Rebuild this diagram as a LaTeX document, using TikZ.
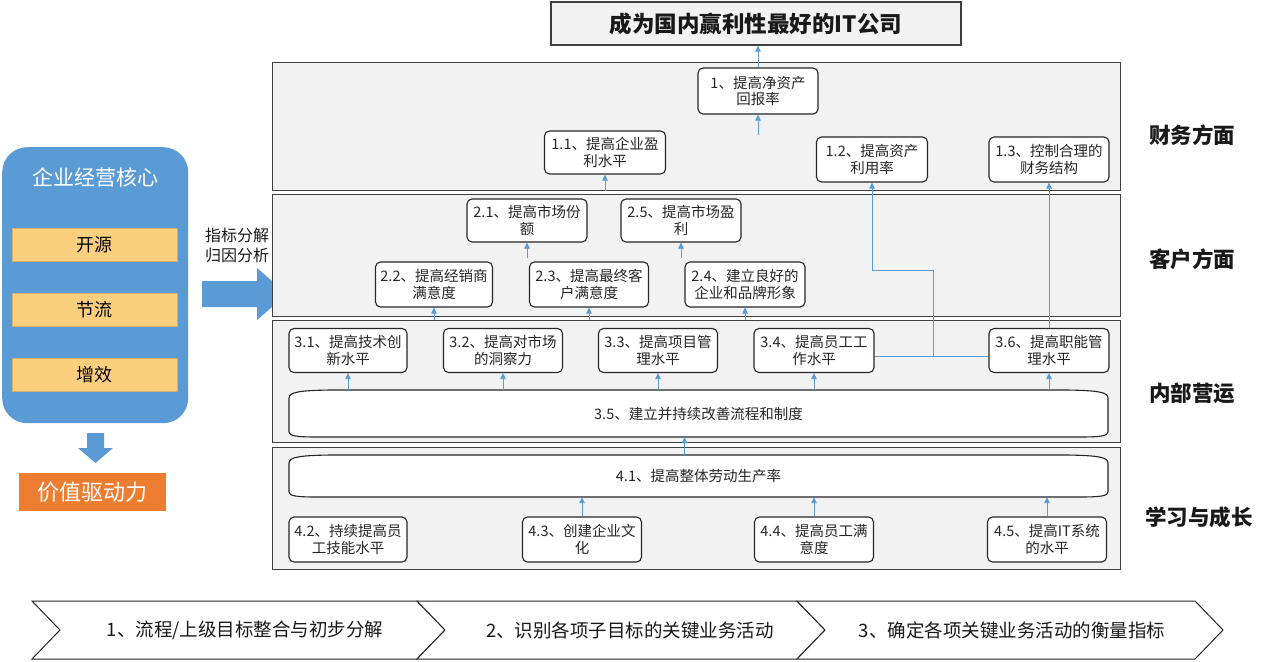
\documentclass[tikz,border=0pt]{standalone}
\usepackage{fontspec}
\setmainfont{Noto Sans CJK SC}
\usetikzlibrary{arrows.meta}
\definecolor{panelfill}{HTML}{F2F2F2}
\definecolor{panelline}{HTML}{404040}
\definecolor{boxline}{HTML}{262626}
\definecolor{arrc}{HTML}{5B9BD5}
\definecolor{coreblue}{HTML}{5B9BD5}
\definecolor{obox}{HTML}{FCCF7E}
\definecolor{vorange}{HTML}{ED7D31}
\newcommand\fs[2]{\fontsize{#1}{#2}\selectfont}
\begin{document}
\begin{tikzpicture}[x=1pt,y=-1pt,
  panel/.style={draw=panelline, fill=panelfill, line width=1.3pt, anchor=north west, inner sep=0pt},
  goal/.style={draw=boxline, fill=white, rounded corners=5pt, line width=1.1pt, align=center,
    font=\fs{14.5}{16.5}, minimum height=44pt, minimum width=119pt, inner sep=1pt, text=black!85},
  bartext/.style={font=\fs{14.5}{16.5}, text=black!85, inner sep=0pt},
  conn/.style={draw=arrc, line width=0.8pt, -{Triangle[length=6pt,width=5.5pt]}},
  plainline/.style={draw=arrc, line width=0.8pt},
  side/.style={font=\bfseries\fs{21.5}{24}, text=black!90},
  oboxs/.style={fill=obox, draw=obox!85!black, line width=0.4pt, minimum width=165pt, minimum height=33pt, font=\fs{18}{20}},
  chev/.style={draw=boxline, fill=white, line width=1pt},
  chevtext/.style={font=\fs{18.5}{20}, text=black!90},
  barline/.style={draw=boxline, fill=white, line width=1.1pt}
]
\useasboundingbox (0,0) rectangle (1268,661);

% ---------- left part ----------
\node[fill=coreblue, rounded corners=25pt, minimum width=186pt, minimum height=276pt, anchor=north west, inner sep=0pt] (core) at (2,147) {};
\node[text=white, font=\fs{21}{24}] (coret) at (95,177) {企业经营核心};
\node[oboxs] (ky) at (94.5,244.5) {开源};
\node[oboxs] (jl) at (94.5,310) {节流};
\node[oboxs] (zx) at (94.5,375) {增效};
\fill[coreblue] (87,433) -- (104,433) -- (104,448) -- (113,448) -- (95.5,463) -- (78,448) -- (87,448) -- cycle;
\node[fill=vorange, text=white, font=\fs{22}{24}, minimum width=147pt, minimum height=38pt, inner sep=0pt] (val) at (92.5,492) {价值驱动力};
\node[align=left, font=\fs{16}{20}, text=black!90, inner sep=0pt] (zb) at (237,245) {指标分解\\归因分析};
\fill[coreblue] (202,281) -- (257,281) -- (257,268) -- (287,294) -- (257,320) -- (257,307) -- (202,307) -- cycle;

% ---------- title ----------
\node[draw=panelline, fill=panelfill, line width=1.3pt, minimum width=410pt, minimum height=43pt,
  font=\bfseries\fs{22.5}{26}, text=black!90] (title) at (756,23.5) {成为国内赢利性最好的IT公司};

% ---------- panels ----------
\node[panel, minimum width=848pt, minimum height=128pt] (fin) at (272,62) {};
\node[panel, minimum width=848pt, minimum height=122pt] (cus) at (272,194) {};
\node[panel, minimum width=848pt, minimum height=122pt] (int) at (272,320) {};
\node[panel, minimum width=848pt, minimum height=122pt] (lea) at (272,447) {};

\node[side] (sfin) at (1192,135) {财务方面};
\node[side] (scus) at (1192,259) {客户方面};
\node[side] (sint) at (1192,393) {内部营运};
\node[side] (slea) at (1199,517) {学习与成长};

% ---------- financial ----------
\node[goal, minimum width=120pt, minimum height=46pt] (b1) at (758,91) {1、提高净资产\\回报率};
\node[goal, minimum width=121pt, minimum height=43pt] (b11) at (605,152.5) {1.1、提高企业盈\\利水平};
\node[goal, minimum width=111pt, minimum height=45pt] (b12) at (872,159.5) {1.2、提高资产\\利用率};
\node[goal, minimum width=120pt, minimum height=45pt] (b13) at (1049,159.5) {1.3、控制合理的\\财务结构};

% ---------- customer ----------
\node[goal, minimum width=120pt, minimum height=43pt] (b21) at (527,220.5) {2.1、提高市场份\\额};
\node[goal, minimum width=120pt, minimum height=43pt] (b25) at (681,220.5) {2.5、提高市场盈\\利};
\node[goal, minimum width=117pt, minimum height=45pt] (b22) at (434,284.5) {2.2、提高经销商\\满意度};
\node[goal, minimum width=119pt, minimum height=45pt] (b23) at (589,284.5) {2.3、提高最终客\\户满意度};
\node[goal, minimum width=120pt, minimum height=45pt] (b24) at (745,284.5) {2.4、建立良好的\\企业和品牌形象};

% ---------- internal ----------
\node[goal, minimum width=118pt] (b31) at (348,350.5) {3.1、提高技术创\\新水平};
\node[goal, minimum width=119pt] (b32) at (503,350.5) {3.2、提高对市场\\的洞察力};
\node[goal, minimum width=119pt] (b33) at (658,350.5) {3.3、提高项目管\\理水平};
\node[goal, minimum width=120pt] (b34) at (814,350.5) {3.4、提高员工工\\作水平};
\node[goal, minimum width=120pt] (b36) at (1049,350.5) {3.6、提高职能管\\理水平};

\draw[barline] (289,398) .. controls (289,392) and (300,390.5) .. (330,390) -- (1067,390)
  .. controls (1097,390.5) and (1108,392) .. (1108,398) -- (1108,432)
  .. controls (1108,436) and (1100,437) .. (1080,437) -- (317,437)
  .. controls (297,437) and (289,436) .. (289,432) -- cycle;
\node[bartext, minimum width=819pt, minimum height=47pt] (b35) at (698.5,413.5) {3.5、建立并持续改善流程和制度};

% ---------- learning ----------
\draw[barline] (289,463) .. controls (289,457) and (300,455.5) .. (330,455) -- (1067,455)
  .. controls (1097,455.5) and (1108,457) .. (1108,463) -- (1108,492)
  .. controls (1108,496) and (1100,497) .. (1080,497) -- (317,497)
  .. controls (297,497) and (289,496) .. (289,492) -- cycle;
\node[bartext, minimum width=819pt, minimum height=42pt] (b41) at (698.5,476) {4.1、提高整体劳动生产率};

\node[goal, minimum width=118pt, minimum height=45pt] (b42) at (348,539.5) {4.2、持续提高员\\工技能水平};
\node[goal, minimum width=119pt, minimum height=45pt] (b43) at (582,539.5) {4.3、创建企业文\\化};
\node[goal, minimum width=119pt, minimum height=45pt] (b44) at (814,539.5) {4.4、提高员工满\\意度};
\node[goal, minimum width=119pt, minimum height=45pt] (b45) at (1047,539.5) {4.5、提高IT系统\\的水平};

% ---------- connectors ----------
\draw[conn] (b1.north) -- (title.south -| b1.north);
\draw[conn] ([yshift=-20pt]b1.south) -- (b1.south);
\draw[conn] (fin.south -| b11.south) -- (b11.south);

\coordinate (j1) at (933,357);
\coordinate (j2) at (933,270);
\draw[plainline] ([yshift=-6pt]b34.east) -- ([yshift=-6pt]b36.west);
\draw[conn] (j1) -- (j2) -| (b12.south);
\draw[conn] (b36.north) -- (b13.south);

\draw[conn] ([yshift=-15pt]b21.south) -- (b21.south);
\draw[conn] ([yshift=-15pt]b25.south) -- (b25.south);
\draw[conn] (int.north -| b22.south) -- (b22.south);
\draw[conn] (int.north -| b23.south) -- (b23.south);
\draw[conn] (int.north -| b24.south) -- (b24.south);

\foreach \b in {b31,b32,b33,b34,b36}
  \draw[conn] (b35.north -| \b.south) -- (\b.south);
\draw[conn] ([xshift=-14pt]b41.north) -- ([xshift=-14pt]b35.south);
\foreach \b in {b43,b44,b45}
  \draw[conn] (\b.north) -- (b41.south -| \b.north);

% ---------- chevrons ----------
\draw[chev] (32,601) -- (417,601) -- (445,630) -- (417,659) -- (32,659) -- (60,630) -- cycle;
\draw[chev] (417,601) -- (797,601) -- (825,630) -- (797,659) -- (417,659) -- (445,630) -- cycle;
\draw[chev] (797,601) -- (1195,601) -- (1223,630) -- (1195,659) -- (797,659) -- (825,630) -- cycle;
\node[chevtext] (c1) at (245,630) {1、流程/上级目标整合与初步分解};
\node[chevtext] (c2) at (630,630) {2、识别各项子目标的关键业务活动};
\node[chevtext] (c3) at (1012,630) {3、确定各项关键业务活动的衡量指标};
\end{tikzpicture}
\end{document}
